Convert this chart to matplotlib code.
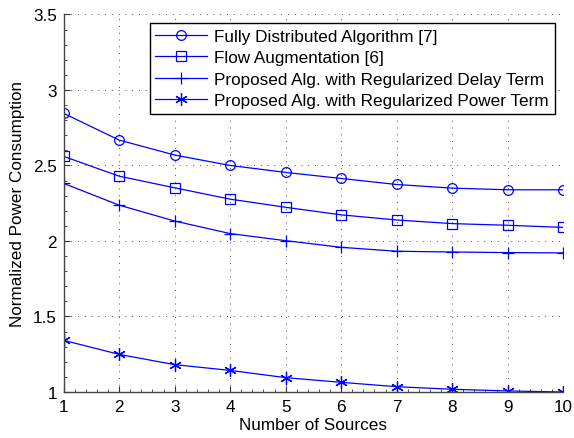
import matplotlib
matplotlib.use("Agg")
import matplotlib.pyplot as plt
from matplotlib.ticker import MultipleLocator

plt.rcParams['font.family'] = ['Liberation Sans', 'DejaVu Sans']

# values
sources = [1, 2, 3, 4, 5, 6, 7, 8, 9, 10]
fully_distributed = [2.845, 2.668, 2.569, 2.50, 2.454, 2.414, 2.374, 2.350, 2.339, 2.339]
flow_augmentation = [2.560, 2.429, 2.352, 2.277, 2.223, 2.173, 2.139, 2.115, 2.104, 2.090]
reg_delay = [2.381, 2.237, 2.132, 2.049, 2.002, 1.958, 1.932, 1.927, 1.923, 1.921]
reg_power = [1.342, 1.249, 1.181, 1.143, 1.095, 1.064, 1.035, 1.018, 1.007, 1.000]

labels = ["Fully Distributed Algorithm [7]",
          "Flow Augmentation [6]",
          "Proposed Alg. with Regularized Delay Term",
          "Proposed Alg. with Regularized Power Term"]
x_ticks = [1, 2, 3, 4, 5, 6, 7, 8, 9, 10]
y_ticks = [1, 1.5, 2, 2.5, 3, 3.5]
y_tick_labels = ["1", "1.5", "2", "2.5", "3", "3.5"]

fig = plt.figure(figsize=(5.74, 4.39), dpi=100)
ax = fig.add_axes([0.111, 0.1048, 0.870, 0.860])

blue = (0, 0, 1)
asterisk = (6, 2, 0)  # matlab style '*'
ax.plot(sources, fully_distributed, marker='o', mfc='none', mew=0.9, markersize=7,
        color=blue, lw=0.9, label=labels[0])
ax.plot(sources, flow_augmentation, marker='s', mfc='none', mew=0.9, markersize=7,
        color=blue, lw=0.9, label=labels[1])
ax.plot(sources, reg_delay, marker='+', mew=0.9, markersize=9,
        color=blue, lw=0.9, label=labels[2])
ax.plot(sources, reg_power, marker=asterisk, mew=0.9, markersize=9,
        color=blue, lw=0.9, label=labels[3])

ax.set_xlim(1, 10)
ax.set_ylim(1, 3.5)
ax.set_xticks(x_ticks)
ax.set_yticks(y_ticks)
ax.set_yticklabels(y_tick_labels)
ax.xaxis.set_minor_locator(MultipleLocator(0.2))
ax.yaxis.set_minor_locator(MultipleLocator(0.1))
ax.tick_params(which='both', direction='in', labelsize=12.3, colors='#333333',
               labelcolor='black', top=False, right=False)
ax.tick_params(which='major', length=4, width=0.8, pad=5)
ax.tick_params(which='minor', length=2, width=0.6)

ax.grid(True, which='major', linestyle=(0, (1, 6.5)), color='#333333', lw=0.65)
for side in ['top', 'right']:
    ax.spines[side].set_visible(False)
for side in ['left', 'bottom']:
    ax.spines[side].set_color('#444444')
    ax.spines[side].set_linewidth(1.0)

ax.set_xlabel("Number of Sources", fontsize=12.3, labelpad=2)
ax.set_ylabel("Normalized Power Consumption", fontsize=12.3, labelpad=6)

leg = ax.legend(loc='upper right', bbox_to_anchor=(0.983, 0.977), borderaxespad=0,
                fontsize=12.3, fancybox=False, framealpha=1, edgecolor='black',
                handlelength=3.0, labelspacing=0.38, borderpad=0.33, handletextpad=0.45)
leg.get_frame().set_linewidth(1.0)

fig.savefig("out.png", dpi=100)
